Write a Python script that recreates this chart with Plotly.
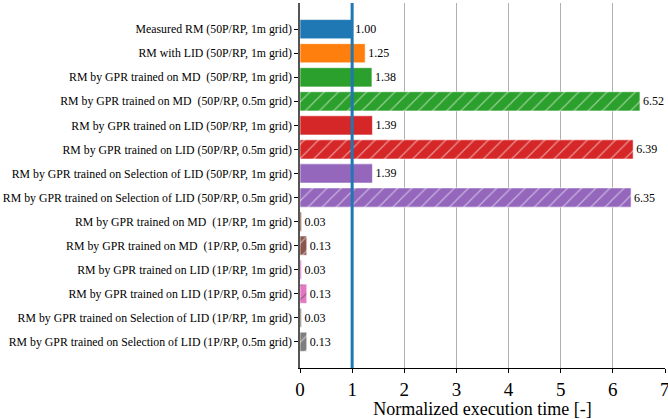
import plotly.graph_objects as go

labels = [
    "Measured RM (50P/RP, 1m grid)",
    "RM with LID (50P/RP, 1m grid)",
    "RM by GPR trained on MD\u00a0 (50P/RP, 1m grid)",
    "RM by GPR trained on MD\u00a0 (50P/RP, 0.5m grid)",
    "RM by GPR trained on LID (50P/RP, 1m grid)",
    "RM by GPR trained on LID (50P/RP, 0.5m grid)",
    "RM by GPR trained on Selection of LID (50P/RP, 1m grid)",
    "RM by GPR trained on Selection of LID (50P/RP, 0.5m grid)",
    "RM by GPR trained on MD\u00a0 (1P/RP, 1m grid)",
    "RM by GPR trained on MD\u00a0 (1P/RP, 0.5m grid)",
    "RM by GPR trained on LID (1P/RP, 1m grid)",
    "RM by GPR trained on LID (1P/RP, 0.5m grid)",
    "RM by GPR trained on Selection of LID (1P/RP, 1m grid)",
    "RM by GPR trained on Selection of LID (1P/RP, 0.5m grid)",
]
values = [1.00, 1.25, 1.38, 6.52, 1.39, 6.39, 1.39, 6.35, 0.03, 0.13, 0.03, 0.13, 0.03, 0.13]
colors = ["#1f77b4", "#ff7f0e", "#2ca02c", "#2ca02c", "#d62728", "#d62728",
          "#9467bd", "#9467bd", "#8c564b", "#8c564b", "#e377c2", "#e377c2",
          "#7f7f7f", "#7f7f7f"]
hatch = ["", "", "", "/", "", "/", "", "/", "", "/", "", "/", "", "/"]
xticks = [0, 1, 2, 3, 4, 5, 6, 7]
ref_value = 1.0

font = "'Liberation Serif', 'Times New Roman', serif"

fig = go.Figure()
fig.add_trace(go.Bar(
    y=labels, x=values, orientation="h",
    width=0.8,
    marker=dict(color=colors,
                line=dict(color="rgba(255,255,255,0.6)", width=1),
                pattern=dict(shape=hatch, fgcolor="white", bgcolor=colors,
                             size=10, solidity=0.12, fillmode="overlay")),
    text=[f"{v:.2f}" for v in values],
    textposition="outside",
    textfont=dict(family=font, size=12, color="black"),
    cliponaxis=False,
    showlegend=False,
))
fig.add_shape(type="line", xref="x", yref="paper", x0=ref_value, x1=ref_value,
              y0=0, y1=1, line=dict(color="#1f77b4", width=3))
# last tick label (partly beyond the right edge, as in the reference)
fig.add_annotation(x=xticks[-1], y=0, xref="x", yref="paper", text=str(xticks[-1]),
                   showarrow=False, yanchor="top", xanchor="center", yshift=-9,
                   font=dict(family=font, size=19, color="black"))

fig.update_layout(
    width=668, height=419,
    margin=dict(l=300, r=3, t=3, b=51, autoexpand=False),
    plot_bgcolor="white", paper_bgcolor="white",
    font=dict(family=font, color="black"),
    bargap=0.2,
)
fig.update_xaxes(
    range=[0, 7], tickvals=xticks, showgrid=True, gridcolor="#b0b0b0", gridwidth=1,
    zeroline=False, showline=True, linecolor="black", linewidth=1,
    ticks="outside", ticklen=4, tickcolor="black", automargin=False,
    tickfont=dict(family=font, size=19),
    title=dict(text="Normalized execution time [-]", font=dict(family=font, size=18), standoff=2),
)
fig.update_yaxes(
    categoryorder="array", categoryarray=labels, autorange=False,
    range=[13 + 1.09, -1.09], automargin=False,
    showgrid=False, showline=True, linecolor="#555555", linewidth=1.5,
    ticks="outside", ticklen=4, tickcolor="black",
    tickfont=dict(family=font, size=11.8),
)
fig.write_html("out.html", config={"displayModeBar": False})

with open("out.html", "r", encoding="utf-8") as f:
    html = f.read()
html = html.replace("<head>", "<head><style>html,body{margin:0;padding:0;overflow:hidden;}</style>", 1)
with open("out.html", "w", encoding="utf-8") as f:
    f.write(html)
